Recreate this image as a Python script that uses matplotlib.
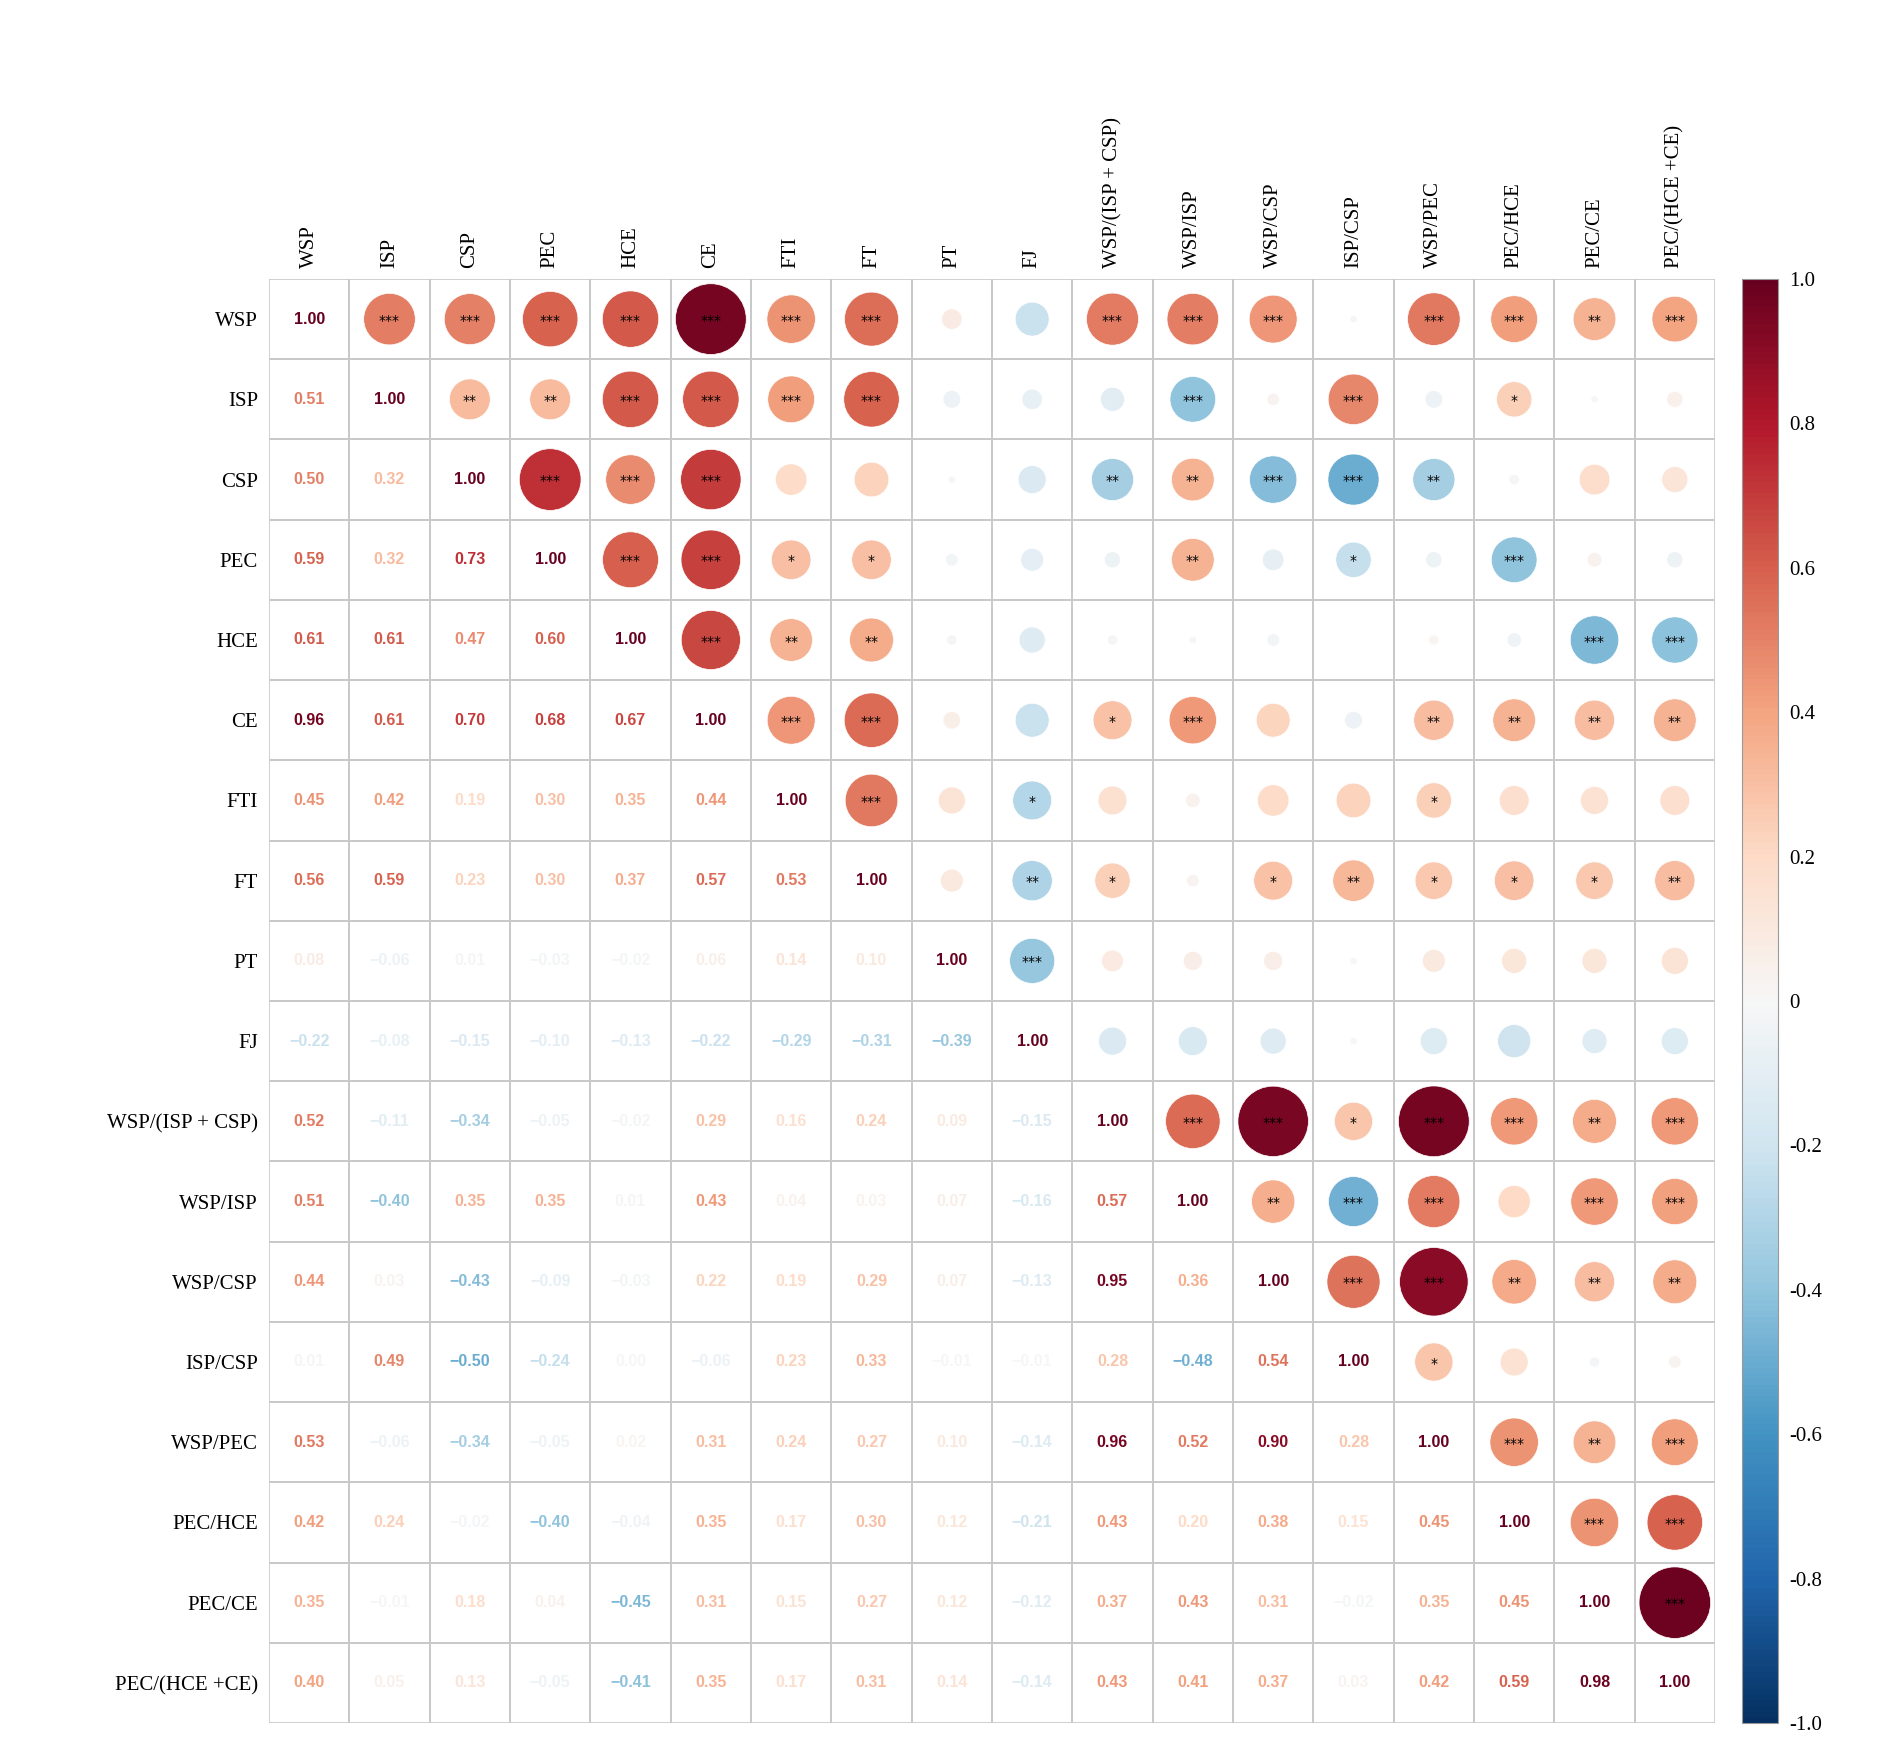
import numpy as np
import matplotlib
matplotlib.use("Agg")
import matplotlib.pyplot as plt
from matplotlib.patches import Circle, Rectangle
from matplotlib.colors import Normalize

labels = ["WSP","ISP","CSP","PEC","HCE","CE","FTI","FT","PT","FJ",
          "WSP/(ISP + CSP)","WSP/ISP","WSP/CSP","ISP/CSP","WSP/PEC","PEC/HCE","PEC/CE","PEC/(HCE +CE)"]

lower = [
 [],
 [0.51],
 [0.50,0.32],
 [0.59,0.32,0.73],
 [0.61,0.61,0.47,0.60],
 [0.96,0.61,0.70,0.68,0.67],
 [0.45,0.42,0.19,0.30,0.35,0.44],
 [0.56,0.59,0.23,0.30,0.37,0.57,0.53],
 [0.08,-0.06,0.01,-0.03,-0.02,0.06,0.14,0.10],
 [-0.22,-0.08,-0.15,-0.10,-0.13,-0.22,-0.29,-0.31,-0.39],
 [0.52,-0.11,-0.34,-0.05,-0.02,0.29,0.16,0.24,0.09,-0.15],
 [0.51,-0.40,0.35,0.35,0.01,0.43,0.04,0.03,0.07,-0.16,0.57],
 [0.44,0.03,-0.43,-0.09,-0.03,0.22,0.19,0.29,0.07,-0.13,0.95,0.36],
 [0.01,0.49,-0.50,-0.24,0.00,-0.06,0.23,0.33,-0.01,-0.01,0.28,-0.48,0.54],
 [0.53,-0.06,-0.34,-0.05,0.02,0.31,0.24,0.27,0.10,-0.14,0.96,0.52,0.90,0.28],
 [0.42,0.24,-0.02,-0.40,-0.04,0.35,0.17,0.30,0.12,-0.21,0.43,0.20,0.38,0.15,0.45],
 [0.35,-0.01,0.18,0.04,-0.45,0.31,0.15,0.27,0.12,-0.12,0.37,0.43,0.31,-0.02,0.35,0.45],
 [0.40,0.05,0.13,-0.05,-0.41,0.35,0.17,0.31,0.14,-0.14,0.43,0.41,0.37,0.03,0.42,0.59,0.98],
]

# significance stars for upper triangle, row i, columns i+1..n-1
stars_upper = [
 [3,3,3,3,3,3,3,0,0,3,3,3,0,3,3,2,3],
 [2,2,3,3,3,3,0,0,0,3,0,3,0,1,0,0],
 [3,3,3,0,0,0,0,2,2,3,3,2,0,0,0],
 [3,3,1,1,0,0,0,2,0,1,0,3,0,0],
 [3,2,2,0,0,0,0,0,0,0,0,3,3],
 [3,3,0,0,1,3,0,0,2,2,2,2],
 [3,0,1,0,0,0,0,1,0,0,0],
 [0,2,1,0,1,2,1,1,1,2],
 [3,0,0,0,0,0,0,0,0],
 [0,0,0,0,0,0,0,0],
 [3,3,1,3,3,2,3],
 [2,3,3,0,3,3],
 [3,3,2,2,2],
 [1,0,0,0],
 [3,2,3],
 [3,3],
 [3],
 [],
]

n = len(labels)
M = np.eye(n)
for i in range(n):
    for j, v in enumerate(lower[i]):
        M[i, j] = v
        M[j, i] = v

cmap = plt.get_cmap("RdBu_r")
norm = Normalize(-1, 1)
serif = "Liberation Serif"

fig = plt.figure(figsize=(18.9, 17.48), dpi=100)
W, H = 1890, 1748
ax = fig.add_axes([269/W, 1-1723/H, (1715-269)/W, (1723-279)/H])
ax.set_xlim(0, n); ax.set_ylim(n, 0)
ax.set_aspect("auto")
for s in ax.spines.values():
    s.set_visible(False)

for i in range(n):
    for j in range(n):
        ax.add_patch(Rectangle((j, i), 1, 1, fill=False, ec="#c8c8c8", lw=1.2))
        v = M[i, j]
        col = cmap(norm(v))
        if j <= i:
            ax.text(j+0.5, i+0.5, f"{v:.2f}".replace("-", "\u2212"), ha="center", va="center",
                    color=col, fontsize=11.5, fontweight="bold", family="Liberation Sans")
        else:
            r = 0.45*np.sqrt(abs(v))
            ax.add_patch(Circle((j+0.5, i+0.5), r, fc=col, ec="white", lw=0.5))
            s = stars_upper[i][j-i-1]
            if s:
                ax.text(j+0.5, i+0.52, "*"*s, ha="center", va="center", fontsize=10, color="black")

ax.set_xticks(np.arange(n)+0.5)
ax.set_yticks(np.arange(n)+0.5)
ax.xaxis.tick_top()
ax.set_xticklabels(labels, rotation=90, family=serif, fontsize=15)
ax.set_yticklabels(labels, family=serif, fontsize=15)
ax.tick_params(length=0, pad=8)

cax = fig.add_axes([1742/W, 1-1723/H, 36/W, (1723-279)/H])
sm = plt.cm.ScalarMappable(norm=norm, cmap=cmap)
cb = fig.colorbar(sm, cax=cax, ticks=np.linspace(-1, 1, 11))
cb.ax.set_yticklabels(["-1.0","-0.8","-0.6","-0.4","-0.2","0","0.2","0.4","0.6","0.8","1.0"],
                      family=serif, fontsize=15)
cb.ax.tick_params(length=0, pad=8)
cb.outline.set_edgecolor("#999999")

fig.savefig("out.png", dpi=100)
